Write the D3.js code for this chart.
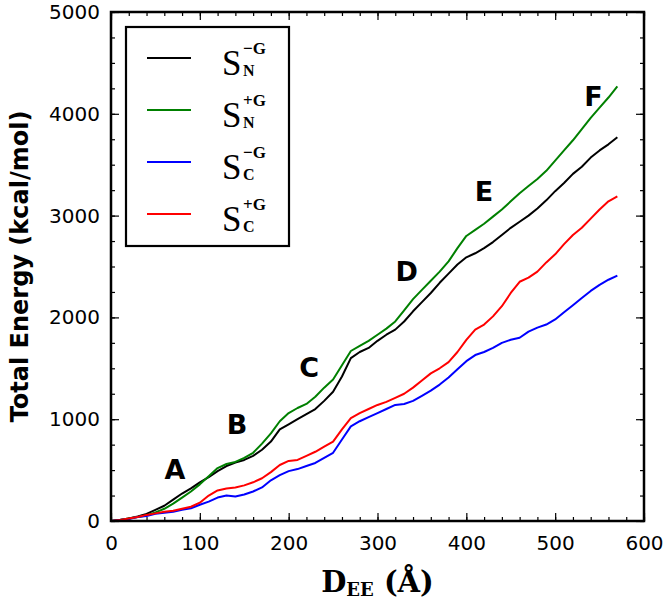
<!DOCTYPE html>
<html><head><meta charset="utf-8">
<script src="https://cdn.jsdelivr.net/npm/d3@7"></script>
<style>body{margin:0;background:#fff} svg{display:block}</style>
</head><body>
<svg id="c" width="666" height="603"></svg>
<script>
const dee = [0,10,20,30,40,50,60,70,80,90,100,110,120,130,140,150,160,170,180,190,200,210,220,230,240,250,260,270,280,290,300,310,320,330,340,350,360,370,380,390,400,410,420,430,440,450,460,470,480,490,500,510,520,530,540,550,560,570];
const sNminusG = [0,10,25,45,70,110,150,210,270,320,380,430,490,540,575,600,640,700,780,900,950,1000,1050,1100,1180,1270,1420,1600,1660,1700,1770,1830,1880,1960,2060,2150,2240,2340,2430,2520,2590,2630,2680,2740,2810,2880,2940,3000,3070,3150,3240,3320,3410,3480,3570,3640,3700,3770];
const sNplusG = [0,10,25,40,55,85,120,170,230,290,360,440,520,560,580,620,670,760,860,980,1060,1110,1150,1220,1310,1390,1530,1670,1720,1770,1830,1890,1960,2070,2180,2270,2360,2450,2550,2680,2800,2860,2920,2990,3060,3140,3220,3290,3360,3440,3540,3640,3740,3850,3960,4060,4160,4270];
const sCminusG = [0,10,20,40,50,70,80,90,110,125,160,190,230,250,240,260,290,330,400,450,490,510,540,570,620,670,800,930,980,1020,1060,1100,1140,1150,1180,1230,1280,1340,1410,1490,1570,1630,1660,1700,1750,1780,1800,1860,1900,1930,1980,2050,2120,2190,2260,2320,2370,2410];
const sCplusG = [0,10,25,40,60,75,90,100,120,140,180,250,300,320,330,350,380,420,480,550,590,600,640,680,730,780,900,1010,1060,1100,1140,1170,1210,1250,1310,1380,1450,1500,1560,1660,1780,1880,1930,2010,2110,2240,2350,2390,2450,2540,2620,2720,2810,2880,2970,3060,3140,3190];

const seriesNames = ["S_N^-G","S_N^+G","S_C^-G","S_C^+G"];
const seriesSub = ["N","N","C","C"];
const seriesSup = ["\u2212G","+G","\u2212G","+G"];
const seriesColors = ["#000000","#008000","#0000ff","#ff0000"];
const seriesValues = [sNminusG, sNplusG, sCminusG, sCplusG];

const xTicks = [0,100,200,300,400,500,600];
const yTicks = [0,1000,2000,3000,4000,5000];
const xMinor = d3.range(0,601,20);
const yMinor = d3.range(0,5001,250);

const stageNames = ["A","B","C","D","E","F"];
const stageX = [72,142,223,333,420,543];
const stageY = [510,953,1513,2456,3241,4175];

const L=111, R=644, T=12, B=521;
const svg = d3.select("#c");
const x = d3.scaleLinear().domain([0,600]).range([L,R]);
const y = d3.scaleLinear().domain([0,5000]).range([B,T]);

function styleAxis(g){ g.select(".domain").remove(); g.selectAll("line").attr("stroke","#000").attr("stroke-width",1.2); }

// minor ticks
svg.append("g").attr("transform",`translate(0,${B})`).call(d3.axisBottom(x).tickValues(xMinor).tickSize(-4).tickFormat("")).call(styleAxis);
svg.append("g").attr("transform",`translate(0,${T})`).call(d3.axisTop(x).tickValues(xMinor).tickSize(-4).tickFormat("")).call(styleAxis);
svg.append("g").attr("transform",`translate(${L},0)`).call(d3.axisLeft(y).tickValues(yMinor).tickSize(-4).tickFormat("")).call(styleAxis);
svg.append("g").attr("transform",`translate(${R},0)`).call(d3.axisRight(y).tickValues(yMinor).tickSize(-4).tickFormat("")).call(styleAxis);
// major ticks
const font = "'DejaVu Sans', sans-serif";
const gx = svg.append("g").attr("transform",`translate(0,${B})`).call(d3.axisBottom(x).tickValues(xTicks).tickSize(-8).tickPadding(15).tickFormat(d3.format("d"))).call(styleAxis);
gx.selectAll("text").attr("font-family",font).attr("font-size",20).attr("fill","#000");
svg.append("g").attr("transform",`translate(0,${T})`).call(d3.axisTop(x).tickValues(xTicks).tickSize(-8).tickFormat("")).call(styleAxis);
const gy = svg.append("g").attr("transform",`translate(${L},0)`).call(d3.axisLeft(y).tickValues(yTicks).tickSize(-8).tickPadding(11).tickFormat(d3.format("d"))).call(styleAxis);
gy.selectAll("text").attr("font-family",font).attr("font-size",20).attr("fill","#000");
svg.append("g").attr("transform",`translate(${R},0)`).call(d3.axisRight(y).tickValues(yTicks).tickSize(-8).tickFormat("")).call(styleAxis);

// lines
const line = d3.line().x((d,i)=>x(dee[i])).y(d=>y(d));
seriesValues.forEach((vals,k)=>{
  svg.append("path").datum(vals).attr("d",line).attr("fill","none")
    .attr("stroke",seriesColors[k]).attr("stroke-width",2).attr("stroke-linejoin","round");
});

// frame
svg.append("rect").attr("x",L).attr("y",T).attr("width",R-L).attr("height",B-T)
  .attr("fill","none").attr("stroke","#000").attr("stroke-width",2.5);

// stage labels
stageNames.forEach((s,i)=>{
  svg.append("text").attr("x",x(stageX[i])).attr("y",y(stageY[i])).attr("dy","0.36em")
    .attr("text-anchor","middle").attr("font-family",font).attr("font-weight","bold")
    .attr("font-size",27).text(s);
});

// legend
const lg = svg.append("g");
lg.append("rect").attr("x",126).attr("y",27).attr("width",163).attr("height",219)
  .attr("fill","#fff").attr("stroke","#000").attr("stroke-width",2.2);
seriesNames.forEach((n,k)=>{
  const ly = 58 + k*52;
  lg.append("line").attr("x1",147).attr("x2",191).attr("y1",ly).attr("y2",ly)
    .attr("stroke",seriesColors[k]).attr("stroke-width",2);
  const serif = "'Liberation Serif', serif";
  lg.append("text").attr("x",222).attr("y",ly+17).attr("font-family",serif).attr("font-size",35).text("S");
  lg.append("text").attr("x",243).attr("y",ly+18).attr("font-family",serif).attr("font-weight","bold").attr("font-size",16).text(seriesSub[k]);
  lg.append("text").attr("x",243).attr("y",ly-4).attr("font-family",serif).attr("font-weight","bold").attr("font-size",17).text(seriesSup[k]);
});

// axis titles
svg.append("text").attr("transform",`translate(28,${(T+B)/2}) rotate(-90)`)
  .attr("text-anchor","middle").attr("font-family",font).attr("font-weight","bold")
  .attr("font-size",24).text("Total Energy (kcal/mol)");
const xt = svg.append("text").attr("x",(L+R)/2).attr("y",592).attr("text-anchor","middle")
  .attr("font-family","'DejaVu Serif', serif").attr("font-weight","bold").attr("font-size",29);
xt.append("tspan").text("D");
xt.append("tspan").attr("font-size",18).attr("dy",4).text("EE");
xt.append("tspan").attr("dy",-4).text(" (\u00C5)");
</script>
</body></html>
